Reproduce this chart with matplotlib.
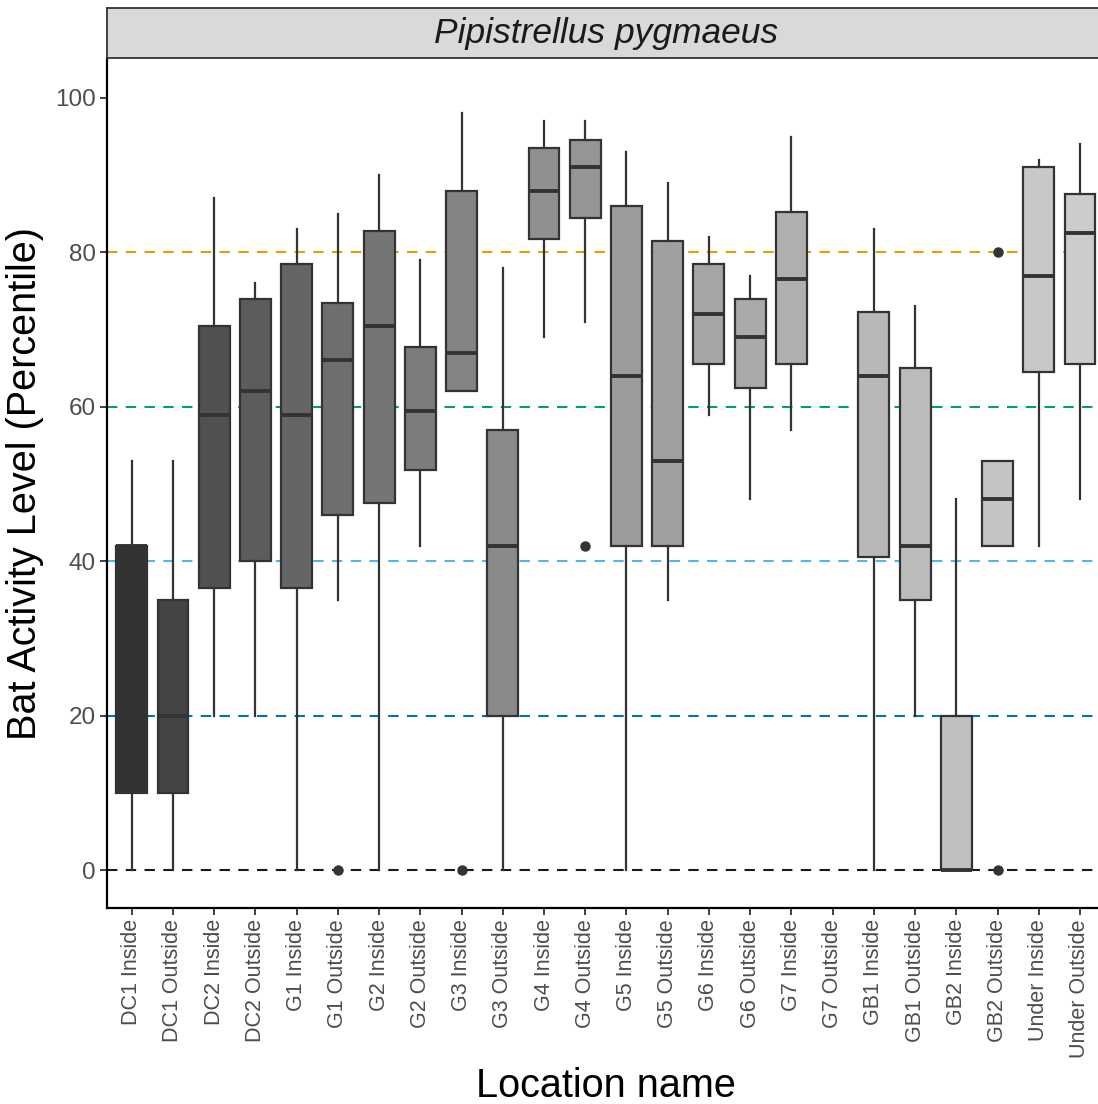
import matplotlib
matplotlib.use("Agg")
import matplotlib.pyplot as plt
import numpy as np

plt.rcParams['font.family'] = ['Liberation Sans', 'DejaVu Sans']

# ---- data ----
locations = ["DC1 Inside", "DC1 Outside", "DC2 Inside", "DC2 Outside",
             "G1 Inside", "G1 Outside", "G2 Inside", "G2 Outside",
             "G3 Inside", "G3 Outside", "G4 Inside", "G4 Outside",
             "G5 Inside", "G5 Outside", "G6 Inside", "G6 Outside",
             "G7 Inside", "G7 Outside", "GB1 Inside", "GB1 Outside",
             "GB2 Inside", "GB2 Outside", "Under Inside", "Under Outside"]
whisker_low = [0, 0, 20, 20, 0, 35, 0, 42, 62, 0, 69, 71, 0, 35, 59, 48, 57, None, 0, 20, 0, 42, 42, 48]
q1 = [10, 10, 36.5, 40, 36.5, 46, 47.5, 51.75, 62, 20, 81.75, 84.5, 42, 42, 65.5, 62.5, 65.5, None, 40.5, 35, 0, 42, 64.5, 65.5]
median = [42, 20, 59, 62, 59, 66, 70.5, 59.5, 67, 42, 88, 91, 64, 53, 72, 69, 76.5, None, 64, 42, 0, 48, 77, 82.5]
q3 = [42, 35, 70.5, 74, 78.5, 73.5, 82.75, 67.75, 88, 57, 93.5, 94.5, 86, 81.5, 78.5, 74, 85.25, None, 72.25, 65, 20, 53, 91, 87.5]
whisker_high = [53, 53, 87, 76, 83, 85, 90, 79, 98, 78, 97, 97, 93, 89, 82, 77, 95, None, 83, 73, 48, 53, 92, 94]
outliers = {"G1 Outside": [0], "G3 Inside": [0], "G4 Outside": [42],
            "GB2 Outside": [80, 0]}
reference_levels = [0, 20, 40, 60, 80]
reference_colors = ["#1a1a1a", "#0072B2", "#56B4E9", "#009E73", "#E69F00"]
y_ticks = [0, 20, 40, 60, 80, 100]

# grey fill scale (like ggplot scale_fill_grey, start 0.2, end 0.8)
n = len(locations)
g = (np.linspace(0.2 ** 2.2, 0.8 ** 2.2, n)) ** (1 / 2.2)
fills = [(v, v, v) for v in g]

W, H = 1098, 1104
fig = plt.figure(figsize=(W / 100, H / 100), dpi=100)
fig.patch.set_facecolor("white")

left_px, right_px = 107, 1104.7
top_px, bottom_px = 58, 908
ax = fig.add_axes([left_px / W, 1 - bottom_px / H,
                   (right_px - left_px) / W, (bottom_px - top_px) / H])

for lvl, col in zip(reference_levels, reference_colors):
    ax.axhline(lvl, color=col, lw=1.5, ls=(0, (5, 4)), zorder=1)

stats, positions, box_fills = [], [], []
for i, name in enumerate(locations):
    if median[i] is None:
        continue
    stats.append(dict(med=median[i], q1=q1[i], q3=q3[i],
                      whislo=whisker_low[i], whishi=whisker_high[i],
                      fliers=outliers.get(name, []), label=name))
    positions.append(i + 1)
    box_fills.append(fills[i])

edge = "#333333"
bp = ax.bxp(stats, positions=positions, widths=0.75, patch_artist=True,
            showcaps=False, showfliers=True, manage_ticks=False,
            boxprops=dict(edgecolor=edge, linewidth=1.6),
            whiskerprops=dict(color=edge, linewidth=1.6),
            medianprops=dict(color=edge, linewidth=2.8, solid_capstyle="butt"),
            flierprops=dict(marker="o", markerfacecolor=edge, markeredgecolor=edge,
                            markersize=6.5, linestyle="none"),
            zorder=2)
for patch, fc in zip(bp["boxes"], box_fills):
    patch.set_facecolor(fc)
    patch.set_zorder(2)
for k in ("whiskers", "medians", "fliers"):
    for art in bp[k]:
        art.set_zorder(3)

ax.set_xlim(0.4, n + 0.6)
ax.set_ylim(-4.92, 105.18)
ax.set_xticks(np.arange(1, n + 1))
ax.set_xticklabels(locations, rotation=90, fontsize=15.5, color="#4D4D4D")
ax.set_yticks(y_ticks)
ax.set_yticklabels([str(t) for t in y_ticks], fontsize=17.5, color="#4D4D4D")
ax.tick_params(axis="both", length=5, width=1.3, color="#333333", pad=3)
for s in ("top", "right"):
    ax.spines[s].set_visible(False)
for s in ("left", "bottom"):
    ax.spines[s].set_color("black")
    ax.spines[s].set_linewidth(1.6)
ax.set_xlabel("Location name", fontsize=28.5, color="black", labelpad=7)
ax.set_ylabel("Bat Activity Level (Percentile)", fontsize=28.5, color="black", labelpad=8)

# facet strip
strip_top = 8
sax = fig.add_axes([left_px / W, 1 - top_px / H,
                    (right_px - left_px) / W, (top_px - strip_top) / H])
sax.set_facecolor("#D9D9D9")
sax.set_xticks([])
sax.set_yticks([])
for s in sax.spines.values():
    s.set_color("#333333")
    s.set_linewidth(1.3)
sax.text(0.5, 0.5, "Pipistrellus pygmaeus", transform=sax.transAxes,
         ha="center", va="center", fontsize=25.5, style="italic", color="#1A1A1A")

fig.savefig("out.png", dpi=100)
